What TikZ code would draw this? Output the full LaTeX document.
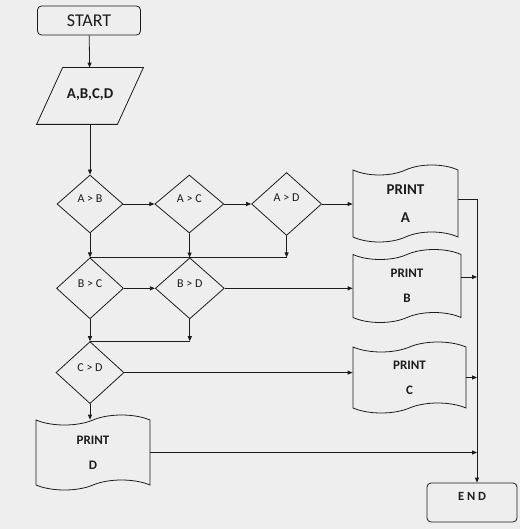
\documentclass[tikz,border=0pt]{standalone}
\usepackage{fontspec}
\setmainfont{Carlito}
\usepackage{tikz}
\usetikzlibrary{arrows.meta, positioning, shapes.geometric, shapes.symbols, calc, backgrounds}
\definecolor{FlowInk}{HTML}{1C1C1C}
\definecolor{Paper}{HTML}{EEEEEE}

\begin{document}
\begin{tikzpicture}[
    x=1pt, y=-1pt,
    line width=0.8pt,
    color=FlowInk,
    terminal/.style={
      rectangle,
      rounded corners=4pt,
      draw,
      inner sep=0pt,
    },
    inout/.style={
      rectangle,
      inner sep=0pt,
      minimum width=106pt,
      minimum height=56pt,
      text depth=5pt,
      font=\bfseries\fontsize{15}{18}\selectfont,
    },
    decision/.style={
      diamond,
      draw,
      inner sep=0pt,
      text depth=10pt,
      font=\fontsize{12}{14}\selectfont,
    },
    printout/.style={
      tape,
      draw,
      tape bend height=10pt,
      inner sep=0pt,
      align=center,
      font=\bfseries\fontsize{13}{25}\selectfont,
    },
    flow/.style={-{Triangle[length=5pt,width=4pt]}},
  ]
    \useasboundingbox (0,0) rectangle (520,529);

    % ---- start and input ----
    \node[terminal, minimum width=103pt, minimum height=29pt,
      font=\fontsize{18}{20}\selectfont] (start) at (89,20.5) {START};
    \node[inout] (io) at (90,96) {A,B,C,D};
    \draw ([xshift=26pt]io.north west) -- (io.north east)
      -- ([xshift=-26pt]io.south east) -- (io.south west) -- cycle;

    % ---- comparisons ----
    \node[decision, minimum width=66pt, minimum height=58pt]
      (ab) at (90,204) {A > B};
    \node[decision, minimum width=69pt, minimum height=58pt,
      right=31pt of ab] (ac) {A > C};
    \node[decision, minimum width=70pt, minimum height=63pt,
      text depth=13pt, right=27pt of ac] (ad) {A > D};
    \node[decision, minimum width=67pt, minimum height=61pt,
      below=24pt of ab] (bc) {B > C};
    \node[decision, minimum width=69pt, minimum height=61pt,
      right=31pt of bc] (bd) {B > D};
    \node[decision, minimum width=68pt, minimum height=62pt,
      below=22pt of bc] (cd) {C > D};

    % ---- outputs ----
    \node[printout, minimum width=105pt, minimum height=77pt,
      font=\bfseries\fontsize{15}{28}\selectfont]
      (pa) at (405.5,203.5) {PRINT\\A};
    \node[printout, minimum width=108pt, minimum height=73pt]
      (pb) at (407,286) {PRINT\\B};
    \node[printout, minimum width=113pt, minimum height=71pt]
      (pc) at (409.5,377.5) {PRINT\\C};
    \node[printout, minimum width=114pt, minimum height=75pt]
      (pd) at (93,452.5) {PRINT\\D};

    \node[terminal, minimum width=90pt, minimum height=39pt, text depth=12pt,
      font=\bfseries\fontsize{12.5}{14}\selectfont] (fin) at (472,502.5) {E N D};
    \coordinate (rail) at (477,0);

    % ---- connectors ----
    \draw[flow] (start) -- (io);
    \draw[flow] (io) -- (ab);
    \draw[flow] (ab) -- (ac);
    \draw[flow] (ac) -- (ad);
    \draw[flow] (ad.east) -- (ad.east -| pa.west);
    \draw[flow] (ab) -- (bc);
    \draw[flow] (ac) -- (bd);
    \draw[flow] (ad.south) -- (ad.south |- bc.north);
    \draw (bc.north) -- (ad.south |- bc.north);
    \draw[flow] (bc) -- (bd);
    \draw[flow] (bd.east) -- (bd.east -| pb.west);
    \draw[flow] (bc) -- (cd);
    \draw[flow] (bd.south) -- (bd.south |- cd.north);
    \draw (cd.north) -- (bd.south |- cd.north);
    \draw[flow] (cd.east) -- (cd.east -| pc.west);
    \draw[flow] (cd.south) -- (cd.south |- pd.north);

    % ---- collecting rail ----
    \draw[flow] ([yshift=4pt]pa.east) -| (fin.north -| rail);
    \draw[flow] ([yshift=9pt]pb.east) -- ([yshift=9pt]pb.east -| rail);
    \draw[flow] (pc.east) -- (pc.east -| rail);
    \draw[flow] (pd.east) -- (pd.east -| rail);

    \begin{scope}[on background layer]
      \fill[Paper] (0,0) rectangle (520,529);
    \end{scope}
  \end{tikzpicture}
\end{document}
